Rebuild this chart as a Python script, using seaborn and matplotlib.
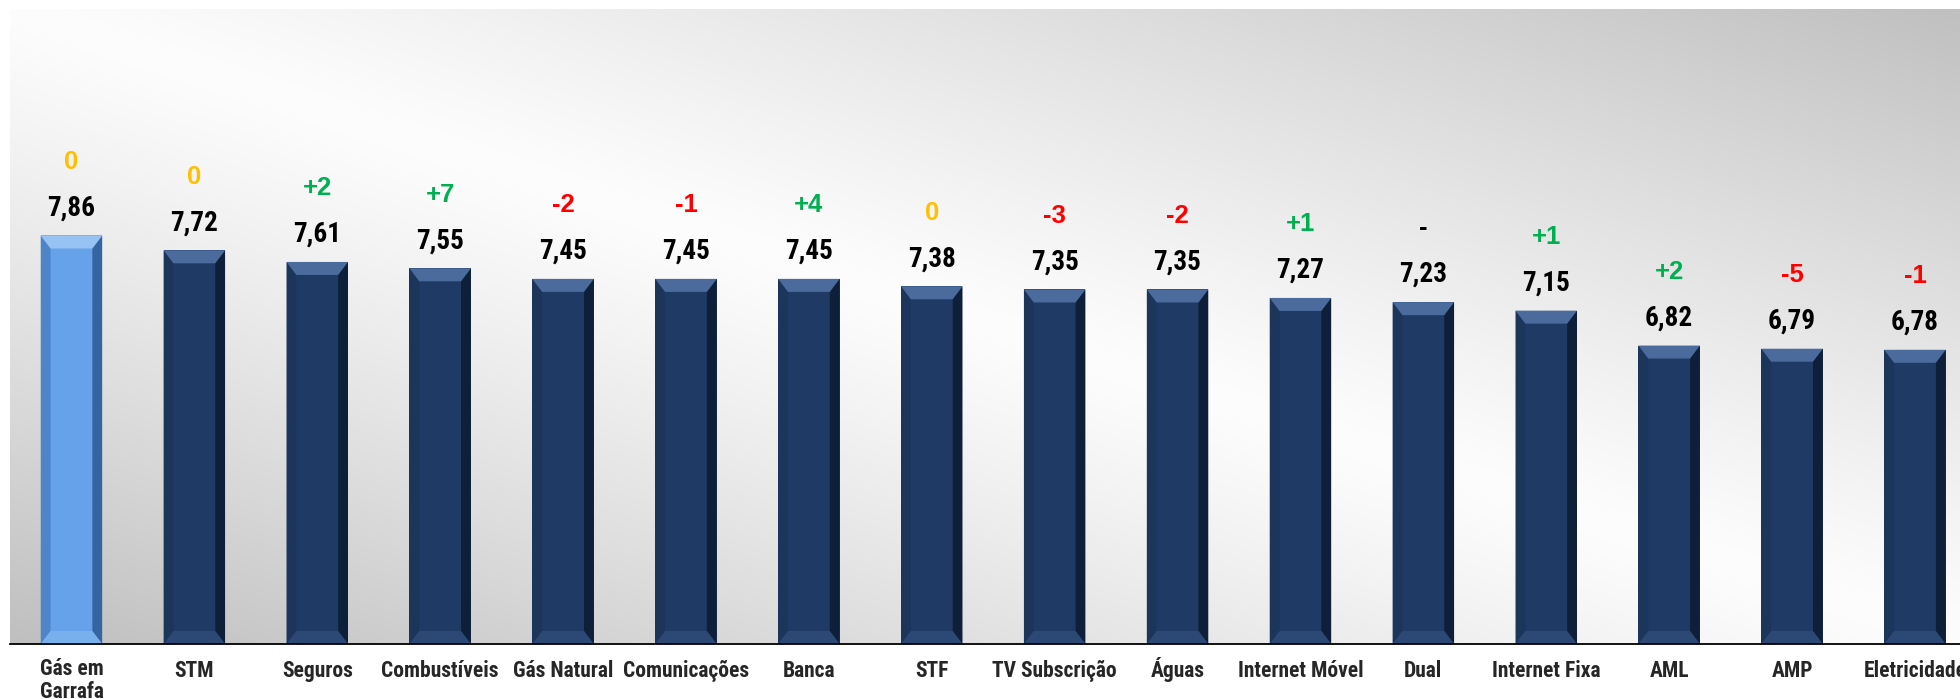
import numpy as np
import matplotlib
matplotlib.use("Agg")
import matplotlib.pyplot as plt
from matplotlib import font_manager as fm
from matplotlib.patches import Polygon
from matplotlib.transforms import ScaledTranslation
import seaborn as sns

# Satisfaction index by sector, with change in ranking position
categories = ["Gás em\nGarrafa", "STM", "Seguros", "Combustíveis", "Gás Natural",
              "Comunicações", "Banca", "STF", "TV Subscrição", "Águas",
              "Internet Móvel", "Dual", "Internet Fixa", "AML", "AMP", "Eletricidade"]
scores = [7.86, 7.72, 7.61, 7.55, 7.45, 7.45, 7.45, 7.38, 7.35, 7.35,
          7.27, 7.23, 7.15, 6.82, 6.79, 6.78]
rank_change = ["0", "0", "+2", "+7", "-2", "-1", "+4", "0", "-3", "-2",
               "+1", "-", "+1", "+2", "-5", "-1"]
highlight = "Gás em\nGarrafa"


def narrow_font():
    """Pick a narrow bold face if one is installed, else plain Liberation Sans."""
    fonts = fm.fontManager.ttflist
    names = {f.name for f in fonts}
    for n in ["Liberation Sans Narrow", "Arial Narrow", "Roboto Condensed",
              "Open Sans Condensed", "Noto Sans Condensed", "DejaVu Sans Condensed"]:
        if n in names:
            return n, "normal", 1.0
    for n in ["Roboto", "Open Sans", "Noto Sans", "DejaVu Sans"]:
        for f in fonts:
            if f.name == n and str(f.stretch) in ("condensed", "semi-condensed",
                                                  "extra-condensed", "ultra-condensed"):
                return n, str(f.stretch), 0.95
    return "Liberation Sans", "normal", 0.84


sns.set_style("white")
NARROW_NAME, NARROW_STRETCH, NSCALE = narrow_font()
NARROW = [NARROW_NAME, "DejaVu Sans"]
REGULAR = ["Liberation Sans", "DejaVu Sans"]
plt.rcParams["font.family"] = NARROW

W, H, DPI = 1960, 699, 100
fig = plt.figure(figsize=(W / DPI, H / DPI), dpi=DPI, facecolor="white")
ax = fig.add_axes([10 / W, 55 / H, 16 * 122.9 / W, 635 / H])
ax.set_facecolor("none")

# Diagonal grey-white-grey backdrop of the plotting area
u = np.linspace(0, 1, 600)
v = np.linspace(1, 0, 300)
U, V = np.meshgrid(u, v)
s = np.abs(U + V - 1)
g = (253 - 62 * s ** 1.15) / 255
ax.imshow(np.dstack([g, g, g]), extent=[0, 1, 0, 1], transform=ax.transAxes,
          aspect="auto", zorder=0, interpolation="bilinear")

palette = {c: ("#66a2ea" if c == highlight else "#1f3b65") for c in categories}
sns.barplot(x=categories, y=scores, hue=categories, palette=palette, width=0.5,
            legend=False, saturation=1, ax=ax, zorder=2)

ymin, ymax = 4.0, 10.0
ax.set_xlim(-0.5, len(categories) - 0.5)
ax.set_ylim(ymin, ymax)

# Bevel shading for each bar
px_per_unit = 635 / (ymax - ymin)
bevel_v = 13 / px_per_unit
shades = {
    "dark": dict(top="#4a6b9c", bottom="#2c4874", left="#1b355b", right="#0e1f3a"),
    "light": dict(top="#96c3f3", bottom="#78b0ee", left="#4d85c9", right="#3465a2"),
}
bars = sorted(ax.patches, key=lambda p: p.get_x())
for p, cat in zip(bars, categories):
    p.set_edgecolor("none")
    x0, w, top = p.get_x(), p.get_width(), p.get_height()
    x1 = x0 + w
    b = 0.16 * w
    y0 = ymin
    sh = shades["light" if cat == highlight else "dark"]
    polys = [
        ([(x1 - b, top - bevel_v), (x1, top), (x1, y0), (x1 - b, y0 + bevel_v)], sh["right"]),
        ([(x0 + b, top - bevel_v), (x0, top), (x0, y0), (x0 + b, y0 + bevel_v)], sh["left"]),
        ([(x0, top), (x1, top), (x1 - b, top - bevel_v), (x0 + b, top - bevel_v)], sh["top"]),
        ([(x0, y0), (x1, y0), (x1 - b, y0 + bevel_v), (x0 + b, y0 + bevel_v)], sh["bottom"]),
    ]
    for pts, col in polys:
        ax.add_patch(Polygon(pts, closed=True, facecolor=col, edgecolor="none", zorder=3))


# Value labels and ranking change labels
def change_color(txt):
    if txt == "0":
        return "#ffc000"
    if txt.startswith("+"):
        return "#00b050"
    if txt == "-":
        return "black"
    return "#ff0000"


for p, val, ch in zip(bars, scores, rank_change):
    cx = p.get_x() + p.get_width() / 2
    ax.annotate(f"{val:.2f}".replace(".", ","), (cx, val), xytext=(0, 14.5),
                textcoords="offset points", ha="center", va="baseline",
                fontsize=19.5 * NSCALE, fontweight="bold", family=NARROW,
                fontstretch=NARROW_STRETCH, color="black", zorder=5)
    ax.annotate(ch, (cx, val), xytext=(0, 48), textcoords="offset points",
                ha="center", va="baseline", fontsize=18.5, fontweight="bold",
                family=REGULAR, color=change_color(ch), zorder=5)

# Axes styling
for side in ["left", "right", "top"]:
    ax.spines[side].set_visible(False)
ax.spines["bottom"].set_color("black")
ax.spines["bottom"].set_linewidth(1.3)
ax.spines["bottom"].set_zorder(6)
ax.set_yticks([])
ax.set_xticks(range(len(categories)))
ax.set_xticklabels(categories, fontsize=15.5 * NSCALE, fontweight="bold",
                   family=NARROW, fontstretch=NARROW_STRETCH)
ax.set_xticks(np.arange(-0.5, len(categories), 1), minor=True)
ax.tick_params(axis="x", which="major", length=0, pad=23.5)
ax.tick_params(axis="x", which="minor", length=5, width=1, color="#808080", direction="out")
ax.set_xlabel("")
ax.set_ylabel("")

# Align all category names on the baseline of their first line
for lbl in ax.get_xticklabels():
    lbl.set_linespacing(1.05)
    lbl.set_verticalalignment("baseline")
    n_extra = lbl.get_text().count("\n")
    if n_extra:
        lbl.set_transform(lbl.get_transform()
                          + ScaledTranslation(0, -0.212 * n_extra, fig.dpi_scale_trans))

fig.savefig("out.png", dpi=DPI, facecolor="white")
